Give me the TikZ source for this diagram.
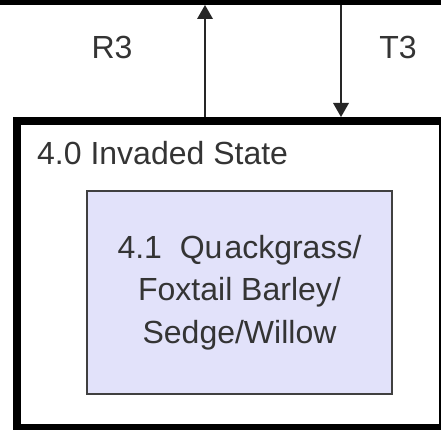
\documentclass[tikz,border=0pt]{standalone}
\usepackage{fontspec}
\setmainfont{Liberation Sans}
\usetikzlibrary{arrows.meta}
\definecolor{phasefill}{RGB}{226,226,250}
\definecolor{phaseline}{RGB}{64,64,64}
\definecolor{txt}{RGB}{52,52,52}
\begin{document}
\begin{tikzpicture}[x=1pt,y=-1pt,
  lbl/.style={font=\fontsize{32}{42.5}\selectfont, text=txt, inner sep=0pt},
  statebox/.style={draw=black, rectangle, inner sep=0pt},
  phasebox/.style={draw=phaseline, fill=phasefill, line width=2pt, rectangle,
    inner sep=0pt, align=center, font=\fontsize{32}{42.5}\selectfont, text=txt},
  flow/.style={draw=black!85, line width=1.8pt,
    -{Triangle[width=16pt,length=14pt,line width=0pt]}}]
\useasboundingbox (0,0) rectangle (441,430);
\begin{scope}
  \clip (0,0) rectangle (441,430);
  % state box above (only its lower edge is in view)
  \node[statebox, line width=10pt, minimum width=490pt, minimum height=100pt] (upper) at (220,-50) {};
  % 4.0 state box
  \node[statebox, line width=8pt, minimum width=426pt, minimum height=307pt] (state) at (230,274.5) {};
  \node[lbl, anchor=base west] (title) at (37,165) {4.0 Invaded State};
  % community phase 4.1
  \node[phasebox, minimum width=305pt, minimum height=203pt] (phase) at (239.5,292.5)
    {4.1\ \ Qu\kern2pt ackgrass/\\Foxtail Barley/\\Sedge/Willow};
  % transitions
  \coordinate (upx) at (205,0);
  \coordinate (dnx) at (341,0);
  \draw[flow] (state.north -| upx) -- (upper.south -| upx);
  \draw[flow] (upper.south -| dnx) -- (state.north -| dnx);
  \node[lbl] (r3) at (112,47.5) {R3};
  \node[lbl] (t3) at (398,47.5) {T3};
\end{scope}
\end{tikzpicture}
\end{document}
